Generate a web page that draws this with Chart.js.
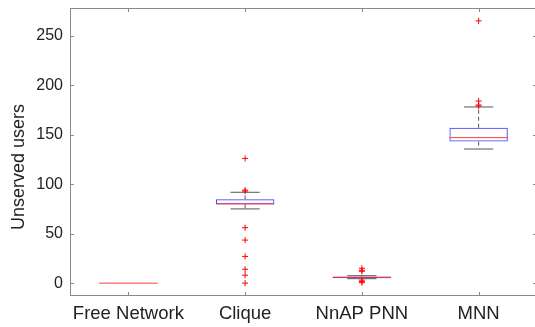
<!DOCTYPE html>
<html>
<head>
<meta charset="utf-8">
<script src="https://cdn.jsdelivr.net/npm/chart.js@4"></script>
<style>
  html, body { margin: 0; padding: 0; background: #fff; overflow: hidden; }
  #wrap { width: 538px; height: 327px; }
</style>
</head>
<body>
<div id="wrap"><canvas id="boxChart"></canvas></div>
<script>
// Box plot values
const categories = ['Free Network', 'Clique', 'NnAP PNN', 'MNN'];
const q1 = [0, 79.6, 5, 143];
const median = [0, 80, 6, 147];
const q3 = [0, 84.7, 6.5, 157];
const whiskerLow = [0, 75, 4.5, 135.5];
const whiskerHigh = [0, 91.8, 7.5, 178];
const outliers = [
    [],
    [126, 94, 93, 56, 43.5, 27, 14, 8, 0],
    [15, 13, 12, 3, 1.5, 0.5],
    [265, 184, 180, 179]
];
const yTicks = [0, 50, 100, 150, 200, 250];
const yMin = -13, yMax = 278;

// Build datasets from the arrays
const boxData = categories.map((c, i) => [q1[i], q3[i]]);
const medianData = categories.map((c, i) => ({ x: c, y: median[i] }));
const capData = [];
const whiskerData = [];
const outlierData = [];
categories.forEach((c, i) => {
    // a flat box (all values equal) only shows its median line
    if (whiskerHigh[i] > whiskerLow[i]) {
        capData.push({ x: c, y: whiskerLow[i] }, { x: c, y: whiskerHigh[i] });
    }
    whiskerData.push({ x: c, y: q3[i] }, { x: c, y: whiskerHigh[i] }, { x: c, y: null });
    whiskerData.push({ x: c, y: q1[i] }, { x: c, y: whiskerLow[i] }, { x: c, y: null });
    outliers[i].forEach(v => outlierData.push({ x: c, y: v }));
});

const axisColor = '#8a8a8a';
const fontFamily = '"Liberation Sans", Arial, sans-serif';

// Axes box + inward ticks + y label, MATLAB style
const frame = {
    id: 'frame',
    afterDraw(chart) {
        const { ctx, chartArea: a, scales } = chart;
        ctx.save();
        ctx.strokeStyle = axisColor;
        ctx.lineWidth = 1;
        ctx.strokeRect(a.left + 0.5, a.top + 0.5, a.right - a.left - 1, a.bottom - a.top - 1);
        ctx.beginPath();
        yTicks.forEach(v => {
            const y = Math.round(scales.y.getPixelForValue(v)) + 0.5;
            ctx.moveTo(a.left, y); ctx.lineTo(a.left + 4, y);
            ctx.moveTo(a.right, y); ctx.lineTo(a.right - 4, y);
        });
        categories.forEach((c, i) => {
            const x = Math.round(scales.x.getPixelForValue(i)) + 0.5;
            ctx.moveTo(x, a.bottom); ctx.lineTo(x, a.bottom - 4);
            ctx.moveTo(x, a.top); ctx.lineTo(x, a.top + 4);
        });
        ctx.stroke();
        ctx.translate(19, 167);
        ctx.rotate(-Math.PI / 2);
        ctx.fillStyle = '#222';
        ctx.font = '18px ' + fontFamily;
        ctx.textAlign = 'center';
        ctx.textBaseline = 'middle';
        ctx.fillText('Unserved users', 0, 0);
        ctx.restore();
    }
};

new Chart(document.getElementById('boxChart'), {
    type: 'bar',
    data: {
        labels: categories,
        datasets: [
            {
                type: 'line', label: 'Median', data: medianData,
                showLine: false, pointStyle: 'line', pointRadius: 29.25,
                borderColor: 'rgb(255, 60, 60)', borderWidth: 1
            },
            {
                type: 'line', label: 'Outliers', data: outlierData,
                showLine: false, pointStyle: 'cross', pointRadius: 3,
                borderColor: 'rgb(255, 0, 0)', borderWidth: 1
            },
            {
                type: 'bar', label: 'Box', data: boxData,
                backgroundColor: 'rgba(0,0,0,0)', borderColor: 'rgb(60, 60, 255)',
                borderWidth: 1, borderSkipped: false,
                categoryPercentage: 0.5, barPercentage: 1
            },
            {
                type: 'line', label: 'Caps', data: capData,
                showLine: false, pointStyle: 'line', pointRadius: 14.6,
                borderColor: '#555', borderWidth: 1
            },
            {
                type: 'line', label: 'Whiskers', data: whiskerData,
                pointRadius: 0, spanGaps: false, borderDash: [4, 3],
                borderColor: '#555', borderWidth: 1, fill: false
            }
        ]
    },
    options: {
        responsive: true,
        maintainAspectRatio: false,
        animation: false,
        layout: { autoPadding: false, padding: { top: 8, right: 1, bottom: 0, left: 0 } },
        plugins: { legend: { display: false }, tooltip: { enabled: false } },
        scales: {
            x: {
                offset: true,
                grid: { display: false, drawTicks: false },
                border: { display: false },
                ticks: {
                    padding: 7,
                    maxRotation: 0,
                    minRotation: 0,
                    autoSkip: false,
                    color: '#222',
                    font: { family: fontFamily, size: 18.5 }
                },
                afterFit(scale) {
                    scale.height = 31;
                    scale.paddingLeft = 0;
                    scale.paddingRight = 0;
                }
            },
            y: {
                min: yMin, max: yMax,
                grid: { display: false, drawTicks: false },
                border: { display: false },
                afterBuildTicks(scale) { scale.ticks = yTicks.map(v => ({ value: v })); },
                ticks: {
                    padding: 7,
                    color: '#222',
                    font: { family: fontFamily, size: 16 }
                },
                afterFit(scale) {
                    scale.width = 70;
                    scale.paddingTop = 0;
                    scale.paddingBottom = 0;
                }
            }
        }
    },
    plugins: [frame]
});
</script>
</body>
</html>
